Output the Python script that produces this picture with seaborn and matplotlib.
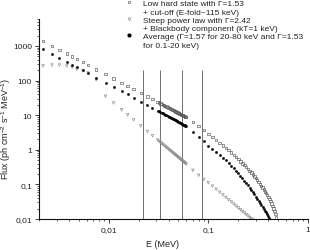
import matplotlib
matplotlib.use('Agg')
import matplotlib.pyplot as plt
from matplotlib.lines import Line2D
from matplotlib.ticker import FixedLocator, LogLocator, NullFormatter
import seaborn as sns
import pandas as pd

# Energy grid (MeV) shared by the three spectra
energy_mev = [0.0022, 0.0027, 0.0032, 0.0038, 0.0043, 0.0048, 0.0055, 0.0062,
              0.0075, 0.0093, 0.0112, 0.0135, 0.0155, 0.0178, 0.021, 0.0245, 0.0275,
              0.031, 0.032, 0.033, 0.034, 0.035, 0.036, 0.037, 0.038, 0.039, 0.040,
              0.041, 0.042, 0.043, 0.044, 0.045, 0.046, 0.047, 0.048, 0.049, 0.050,
              0.051, 0.052, 0.053, 0.054, 0.055, 0.056, 0.057, 0.058, 0.059, 0.060,
              0.07, 0.08, 0.09,
              0.10, 0.11, 0.12, 0.13, 0.14, 0.15, 0.16, 0.17, 0.18, 0.19,
              0.20, 0.21, 0.22, 0.23, 0.24, 0.25, 0.26, 0.27, 0.28, 0.29,
              0.30, 0.31, 0.32, 0.33, 0.34, 0.35, 0.36, 0.37, 0.38, 0.39,
              0.40, 0.41, 0.42, 0.43, 0.44, 0.45, 0.46, 0.47, 0.48, 0.49]

# flux (ph cm-2 s-1 MeV-1), one value per energy from the start of the grid
flux_low_hard = [1380, 1009, 778, 598, 495, 418, 340, 283,
                 211, 152, 115, 85.9, 69.6, 56.4, 43.8, 34.6, 29.0,
                 24.1, 22.96, 21.9, 20.9, 20.0, 19.2, 18.4, 17.6, 16.96, 16.3,
                 15.7, 15.1, 14.6, 14.1, 13.6, 13.2, 12.75, 12.35, 11.96, 11.6,
                 11.25, 10.9, 10.6, 10.3, 10.0, 9.75, 9.49, 9.24, 9.00, 8.77,
                 6.31, 4.90, 3.72,
                 2.82, 2.32, 1.92, 1.60, 1.34, 1.14, 0.966, 0.826, 0.710, 0.612,
                 0.531, 0.462, 0.406, 0.357, 0.316, 0.279, 0.247, 0.218, 0.192, 0.170,
                 0.150, 0.132, 0.117, 0.103, 0.0912, 0.0805, 0.0711, 0.0628, 0.0555, 0.0490,
                 0.0433, 0.0378, 0.0328, 0.0282, 0.0240, 0.0202, 0.0168, 0.0138, 0.0112, 0.0090]

flux_steep = [265, 280, 280, 265, 240, 215, 190, 165,
              105, 35.2, 22.4, 14.3, 10.2, 7.31, 4.90, 3.38, 2.55,
              1.91, 1.769, 1.642, 1.527, 1.424, 1.330, 1.245, 1.167, 1.096, 1.031,
              0.971, 0.916, 0.865, 0.818, 0.775, 0.735, 0.698, 0.663, 0.631, 0.600,
              0.573, 0.546, 0.522, 0.499, 0.477, 0.456, 0.437, 0.419, 0.402, 0.386,
              0.255, 0.183, 0.140,
              0.112, 0.0891, 0.0722, 0.0594, 0.0497, 0.0421, 0.0360, 0.0311, 0.0270, 0.0237,
              0.0210, 0.0186, 0.0166, 0.0150, 0.0135, 0.0122, 0.0111, 0.0101, 0.0093]

flux_average = [818, 596, 458, 351, 290, 244, 198, 164,
                122, 87.7, 65.6, 49.2, 39.7, 32.1, 24.8, 19.5, 16.3,
                13.55, 12.9, 12.3, 11.7, 11.2, 10.7, 10.3, 9.85, 9.45, 9.08,
                8.74, 8.41, 8.11, 7.82, 7.55, 7.29, 7.05, 6.82, 6.61, 6.40,
                6.20, 6.02, 5.84, 5.67, 5.51, 5.36, 5.21, 5.07, 4.93, 4.81,
                3.31, 2.34, 1.74,
                1.32, 1.07, 0.877, 0.721, 0.596, 0.494, 0.412, 0.345, 0.290, 0.244,
                0.207, 0.175, 0.149, 0.127, 0.109, 0.0931, 0.0800, 0.0689, 0.0594, 0.0514,
                0.0446, 0.0387, 0.0337, 0.0294, 0.0258, 0.0226, 0.0199, 0.0175, 0.0155, 0.0137,
                0.0121, 0.0108, 0.0096]

# energies of the vertical marker lines (MeV)
band_edges = [0.022, 0.033, 0.054, 0.087]

ytick_vals = [0.01, 0.1, 1, 10, 100, 1000]
ytick_labels = ['0,01', '0,1', '1', '10', '100', '1000']
xtick_vals = [0.01, 0.1, 1]
xtick_labels = ['0,01', '0,1', '1']

legend_lines = [
    'Low hard state with Γ=1.53', '+ cut-off (E-fold~115 keV)',
    'Steep power law with Γ=2.42', '+ Blackbody component (kT=1 keV)',
    'Average (Γ=1.57 for 20-80 keV and Γ=1.53', 'for 0.1-20 keV)',
]

sns.set_style('ticks')
plt.rcParams['font.family'] = ['Liberation Sans', 'DejaVu Sans']
plt.rcParams['mathtext.default'] = 'regular'

low_df = pd.DataFrame({'E': energy_mev[:len(flux_low_hard)], 'F': flux_low_hard})
steep_df = pd.DataFrame({'E': energy_mev[:len(flux_steep)], 'F': flux_steep})
avg_df = pd.DataFrame({'E': energy_mev[:len(flux_average)], 'F': flux_average})

fig = plt.figure(figsize=(3.10, 2.51), dpi=100)
ax = fig.add_axes([0.1258, 0.1235, 0.8677, 0.7968])

ax.vlines(band_edges, 0.01, 200, color='#707070', lw=0.7, zorder=1)

sns.scatterplot(data=steep_df, x='E', y='F', marker='v', s=3.5, facecolors='none',
                edgecolor='#8a8a8a', linewidth=0.45, ax=ax, zorder=2)
sns.scatterplot(data=low_df, x='E', y='F', marker='s', s=3, facecolors='none',
                edgecolor='#555555', linewidth=0.45, ax=ax, zorder=3)
sns.scatterplot(data=avg_df, x='E', y='F', marker='o', s=3.5, color='black',
                edgecolor='black', linewidth=0.1, ax=ax, zorder=4)

ax.set_xscale('log')
ax.set_yscale('log')
ax.set_xlim(0.002, 1)
ax.set_ylim(0.01, 6000)

ax.yaxis.set_major_locator(FixedLocator(ytick_vals))
ax.set_yticklabels(ytick_labels)
ax.xaxis.set_major_locator(FixedLocator(xtick_vals))
ax.set_xticklabels(xtick_labels)
ax.yaxis.set_minor_locator(LogLocator(base=10, subs=range(2, 10), numticks=20))
ax.xaxis.set_minor_locator(LogLocator(base=10, subs=range(2, 10), numticks=20))
ax.yaxis.set_minor_formatter(NullFormatter())
ax.xaxis.set_minor_formatter(NullFormatter())
ax.tick_params(axis='both', which='major', labelsize=6, length=3, width=0.6,
               pad=2, colors='#222222')
ax.tick_params(axis='both', which='minor', length=1.5, width=0.5, colors='#222222')

sns.despine(ax=ax)
for side in ['left', 'bottom']:
    ax.spines[side].set_linewidth(0.8)
    ax.spines[side].set_color('#111111')

ax.set_xlabel('E (MeV)', fontsize=6.5, color='#222222')
ax.set_ylabel('Flux (ph cm$^{-2}$ s$^{-1}$ MeV$^{-1}$)', fontsize=6.5, color='#222222')
ax.xaxis.set_label_coords(0.46, -0.1)
ax.yaxis.set_label_coords(-0.095, 0.455)

# legend: marker on the first line of each entry
blank = Line2D([], [], linestyle='none', marker=None)
handles = [
    Line2D([], [], linestyle='none', marker='s', markersize=2.0, mfc='none',
           mec='#555555', mew=0.45), blank,
    Line2D([], [], linestyle='none', marker='v', markersize=2.2, mfc='none',
           mec='#8a8a8a', mew=0.45), blank,
    Line2D([], [], linestyle='none', marker='o', markersize=2.0, color='black'), blank,
]
ax.legend(handles, legend_lines, loc='upper left', bbox_to_anchor=(0.40, 0.998),
          bbox_transform=fig.transFigure, frameon=False, fontsize=6,
          handlelength=1.2, handletextpad=1.1, labelspacing=0.05,
          borderpad=0, borderaxespad=0, labelcolor='#222222')

fig.savefig('out.png', dpi=100)
